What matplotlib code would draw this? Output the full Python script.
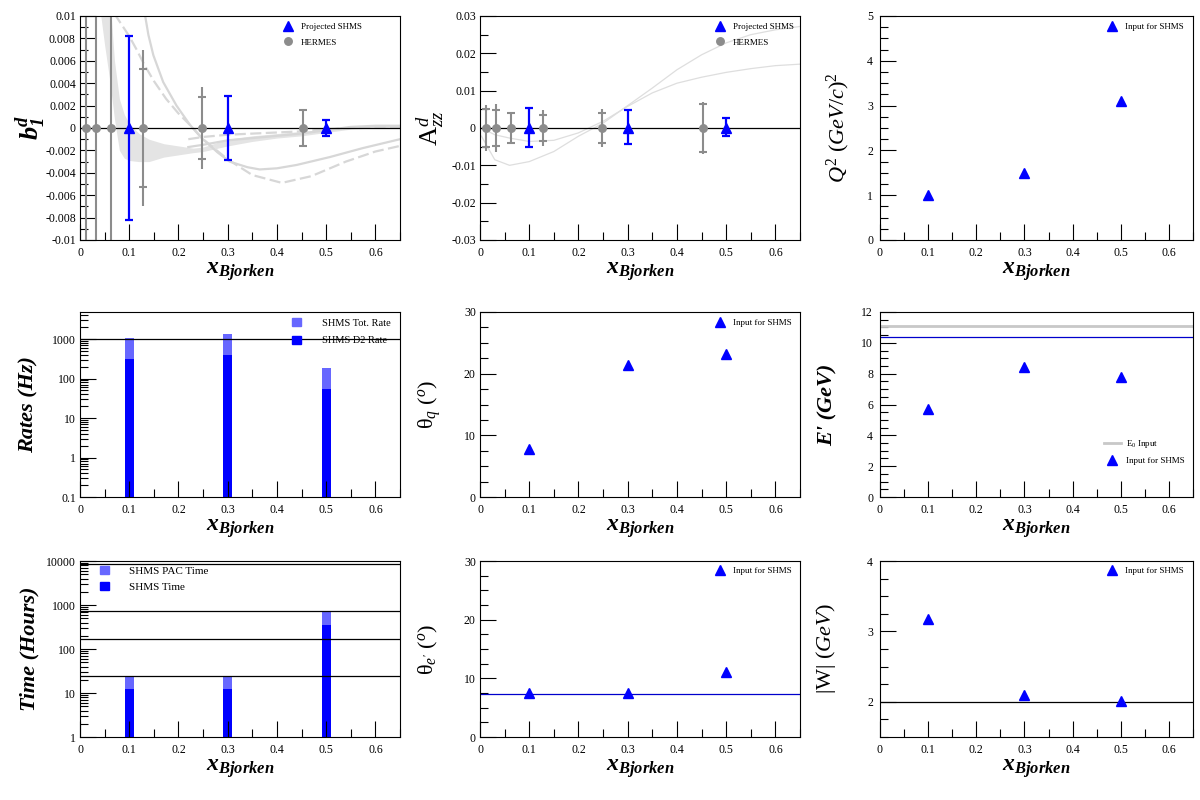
import matplotlib
matplotlib.use("Agg")
import matplotlib.pyplot as plt
from matplotlib.ticker import MultipleLocator, FuncFormatter, LogLocator, NullFormatter
from matplotlib.lines import Line2D
from matplotlib.patches import Patch

plt.rcParams['font.family'] = ['Liberation Serif', 'DejaVu Serif']
plt.rcParams['mathtext.fontset'] = 'custom'
plt.rcParams['mathtext.rm'] = 'Liberation Serif'
plt.rcParams['mathtext.it'] = 'Liberation Serif:italic'
plt.rcParams['mathtext.bf'] = 'Liberation Serif:bold'
plt.rcParams['mathtext.bfit'] = 'Liberation Serif:italic:bold'

# ---- data ----
x_shms = [0.1, 0.3, 0.5]
x_hermes = [0.012, 0.032, 0.063, 0.128, 0.248, 0.452]

# b1^d
b1_shms = [0.0, 0.0, 0.0]
b1_shms_err = [0.0082, 0.0029, 0.0007]
b1_hermes = [0.0, 0.0, 0.0, 0.0, 0.0, 0.0]
b1_hermes_tot = [0.03, 0.03, 0.03, 0.0070, 0.0037, 0.0016]
b1_hermes_stat = [0.03, 0.03, 0.03, 0.0053, 0.0028, 0.0016]

# theory curves for b1 (grey)
band_x = [0.042, 0.05, 0.06, 0.07, 0.08, 0.09, 0.10, 0.12, 0.14, 0.17, 0.20, 0.23,
          0.25, 0.30, 0.35, 0.40, 0.45, 0.50, 0.55, 0.60, 0.65]
band_lo = [0.0101, 0.0074, 0.0044, 0.0008, -0.0020, -0.0027, -0.0029, -0.0030, -0.0030,
           -0.0026, -0.0024, -0.0022, -0.0021, -0.0016, -0.0012, -0.0009, -0.0007,
           -0.0004, -0.0001, 0.0000, 0.0001]
band_hi = [0.0150, 0.0140, 0.0120, 0.0060, 0.0026, 0.0012, 0.0004, -0.0005, -0.0010,
           -0.0014, -0.0016, -0.0018, -0.0017, -0.0010, -0.0007, -0.0005, -0.0003,
           -0.0001, 0.0001, 0.0002, 0.0002]
solid_x = [0.128, 0.132, 0.139, 0.149, 0.169, 0.196, 0.223, 0.247, 0.28, 0.304, 0.34,
           0.365, 0.40, 0.44, 0.507, 0.574, 0.65]
solid_y = [0.0125, 0.0101, 0.0083, 0.0065, 0.0041, 0.0020, 0.0003, -0.0009, -0.0022,
           -0.0030, -0.0035, -0.0037, -0.0036, -0.0033, -0.0026, -0.0018, -0.0010]
dash_x = [0.07, 0.085, 0.10, 0.115, 0.13, 0.15, 0.175, 0.20, 0.225, 0.25, 0.30, 0.35,
          0.41, 0.47, 0.54, 0.60, 0.65]
dash_y = [0.0102, 0.0092, 0.0082, 0.0070, 0.0057, 0.0042, 0.0026, 0.0013, 0.0002,
          -0.0010, -0.0028, -0.0042, -0.0049, -0.0043, -0.0030, -0.0021, -0.0016]
near_x = [0.22, 0.25, 0.30, 0.35, 0.40, 0.45, 0.50, 0.55, 0.60, 0.65]
near_solid_y = [-0.0017, -0.0015, -0.0011, -0.0009, -0.0007, -0.0005, -0.0002, 0.0001,
                0.0002, 0.0002]
near_dash_y = [-0.0010, -0.0008, -0.0006, -0.0005, -0.0004, -0.0003, -0.0001, 0.0000,
               0.0001, 0.0001]

# Azz^d
azz_shms = [0.0, 0.0, 0.0]
azz_shms_up = [0.0053, 0.0048, 0.0026]
azz_shms_dn = [0.0050, 0.0044, 0.0022]
azz_hermes = [0.0, 0.0, 0.0, 0.0, 0.0, 0.0]
azz_hermes_tot = [0.0062, 0.0064, 0.0044, 0.0047, 0.0052, 0.0070]
azz_hermes_stat = [0.0050, 0.0049, 0.0039, 0.0036, 0.0040, 0.0065]
azz_curve_x = [0.003, 0.03, 0.06, 0.10, 0.15, 0.20, 0.25, 0.30, 0.35, 0.40, 0.45,
               0.50, 0.55, 0.60, 0.65]
azz_curve_a = [-0.0022, -0.0085, -0.0100, -0.0090, -0.0063, -0.0022, 0.0013, 0.0060,
               0.0107, 0.0156, 0.0196, 0.0228, 0.0250, 0.0263, 0.0272]
azz_curve_b = [0.0000, -0.0018, -0.0027, -0.0036, -0.0033, -0.0013, 0.0018, 0.0058,
               0.0094, 0.0120, 0.0136, 0.0149, 0.0159, 0.0167, 0.0171]

# kinematics
q2 = [1.0, 1.5, 3.1]
theta_q = [7.8, 21.4, 23.2]
e_prime = [5.7, 8.4, 7.8]
e0_beam = 11.1
e_prime_max = 10.4
theta_e = [7.5, 7.5, 11.1]
theta_e_min = 7.35
w_vals = [3.17, 2.10, 2.01]
w_cut = 2.0

# rates (Hz) and times (hours)
rate_tot = [1080, 1366, 187]
rate_d2 = [316, 400, 55]
rate_line = 1000
time_pac = [24, 24, 690]
time_shms = [12, 12, 350]
time_lines = [24, 168, 744, 8760]

grey = '#8c8c8c'
blue = '#0000ff'
light_blue = '#6767ff'
curve_grey = '#d7d7d7'

W, H = 1200, 800
fig = plt.figure(figsize=(12, 8), dpi=100)

cols = [(80, 400), (480, 800), (880, 1193)]
rows = [(16, 240), (312, 497), (561, 737)]


def make_ax(r, c):
    l, rr = cols[c]
    t, b = rows[r]
    return fig.add_axes([l / W, 1 - b / H, (rr - l) / W, (b - t) / H])


fmt = FuncFormatter(lambda v, p: f'{round(v, 6):g}')


def style(ax, r, ymaj=None, ymin=None, log=False, ypad=3):
    ax.set_xlim(0, 0.65)
    ax.xaxis.set_major_locator(MultipleLocator(0.1))
    ax.xaxis.set_minor_locator(MultipleLocator(0.05))
    ax.xaxis.set_major_formatter(fmt)
    if log:
        ax.set_yscale('log')
        ax.yaxis.set_major_locator(LogLocator(base=10))
        ax.yaxis.set_minor_locator(LogLocator(base=10, subs=range(2, 10)))
        ax.yaxis.set_minor_formatter(NullFormatter())
    else:
        ax.yaxis.set_major_locator(MultipleLocator(ymaj))
        ax.yaxis.set_minor_locator(MultipleLocator(ymin))
    ax.yaxis.set_major_formatter(fmt)
    ax.tick_params(which='both', direction='in', top=False, right=False,
                   labelsize=8.5, width=0.8)
    ax.tick_params(which='major', length=11.5)
    ax.tick_params(which='minor', length=5.8)
    ax.tick_params(axis='x', pad=5)
    ax.tick_params(axis='y', pad=ypad)
    for s in ax.spines.values():
        s.set_linewidth(0.8)
    ax.set_xlabel(r'$\mathbfit{x}_{\mathbfit{Bjorken}}$', fontsize=17)
    t, b = rows[r]
    ax.xaxis.set_label_coords(0.5, -20 / (b - t))


def ylab(ax, text, right_px, c, size=16, **kw):
    ax.set_ylabel(text, fontsize=size, **kw)
    l, rr = cols[c]
    ax.yaxis.set_label_coords((right_px - l) / (rr - l), 0.5)


def legend(ax, handles, labels, hx, tx, y0, dy, fs, hl_px):
    fs_px = fs * 100 / 72
    row_h = fs_px * 1.15
    left = hx - hl_px / 2
    ax.legend(handles, labels, loc='upper left',
              bbox_to_anchor=(left / W, 1 - (y0 - row_h / 2) / H),
              bbox_transform=fig.transFigure, frameon=False, fontsize=fs,
              borderpad=0, borderaxespad=0, handlelength=hl_px / fs_px,
              handletextpad=(tx - hx - hl_px / 2) / fs_px,
              labelspacing=(dy - row_h) / fs_px, handleheight=0.8)


axes = [[make_ax(r, c) for c in range(3)] for r in range(3)]

tri = dict(marker='^', color=blue, ls='none', ms=6.8)
circ = dict(marker='o', color=grey, ls='none', ms=5.4)


def hermes(ax, y, tot, stat):
    ax.errorbar(x_hermes, y, yerr=tot, fmt='none', ecolor=grey, elinewidth=1.5, capsize=0)
    ax.errorbar(x_hermes, y, yerr=stat, fmt='none', ecolor=grey, elinewidth=0,
                capsize=2.6, capthick=1.5)
    ax.plot(x_hermes, y, **circ)


# ---- b1^d ----
ax = axes[0][0]
style(ax, 0, 0.002, 0.001)
ax.set_ylim(-0.01, 0.01)
ax.fill_between(band_x, band_lo, band_hi, color='#e4e4e4', lw=0)
ax.plot(solid_x, solid_y, color=curve_grey, lw=1.6)
ax.plot(dash_x, dash_y, color=curve_grey, lw=1.6, ls=(0, (5, 2)))
ax.plot(near_x, near_solid_y, color=curve_grey, lw=1.6)
ax.plot(near_x, near_dash_y, color=curve_grey, lw=1.6, ls=(0, (5, 2)))
ax.axhline(0, color='black', lw=0.9)
hermes(ax, b1_hermes, b1_hermes_tot, b1_hermes_stat)
ax.errorbar(x_shms, b1_shms, yerr=b1_shms_err, fmt='none', ecolor=blue, elinewidth=1.6,
            capsize=2.6, capthick=1.6)
ax.plot(x_shms, b1_shms, **tri)
ylab(ax, r'$\mathbfit{b}_{\mathbfit{1}}^{\mathbfit{d}}$', 47, 0, size=19)
legend(ax, [Line2D([], [], **tri), Line2D([], [], **circ)], ['Projected SHMS', 'HERMES'],
       288, 301, 28, 17, 6.5, 14)

# ---- Azz^d ----
ax = axes[0][1]
style(ax, 0, 0.01, 0.005)
ax.set_ylim(-0.03, 0.03)
ax.plot(azz_curve_x, azz_curve_a, color='#dedede', lw=0.9)
ax.plot(azz_curve_x, azz_curve_b, color='#dedede', lw=0.9)
ax.axhline(0, color='black', lw=0.9)
hermes(ax, azz_hermes, azz_hermes_tot, azz_hermes_stat)
ax.errorbar(x_shms, azz_shms, yerr=[azz_shms_dn, azz_shms_up], fmt='none', ecolor=blue,
            elinewidth=1.6, capsize=2.6, capthick=1.6)
ax.plot(x_shms, azz_shms, **tri)
ylab(ax, r'$\mathrm{A}_{zz}^{d}$', 447, 1, size=19)
legend(ax, [Line2D([], [], **tri), Line2D([], [], **circ)], ['Projected SHMS', 'HERMES'],
       720, 733, 28, 17, 6.5, 14)

# ---- Q^2 ----
ax = axes[0][2]
style(ax, 0, 1, 0.25, ypad=5)
ax.set_ylim(0, 5)
ax.plot(x_shms, q2, **tri)
ylab(ax, r'$Q^{2}\ (GeV/c)^{2}$', 852, 2, size=16)
legend(ax, [Line2D([], [], **tri)], ['Input for SHMS'], 1112, 1125, 28, 17, 6.5, 14)

# ---- rates ----
ax = axes[1][0]
style(ax, 1, log=True)
ax.set_ylim(0.1, 4850)
ax.bar(x_shms, rate_tot, width=0.018, bottom=0.01, color=light_blue, lw=0)
ax.bar(x_shms, rate_d2, width=0.018, bottom=0.01, color=blue, lw=0)
ax.axhline(rate_line, color='black', lw=0.9, zorder=5)
ylab(ax, 'Rates (Hz)', 39, 0, size=16, fontstyle='italic', fontweight='bold')
legend(ax, [Patch(color=light_blue), Patch(color=blue)], ['SHMS Tot. Rate', 'SHMS D2 Rate'],
       296.5, 322, 324, 20, 7.5, 9)

# ---- theta_q ----
ax = axes[1][1]
style(ax, 1, 10, 2.5)
ax.set_ylim(0, 30)
ax.plot(x_shms, theta_q, **tri)
ylab(ax, r'$\mathrm{\theta}_{q}\ (^{o})$', 443, 1, size=16)
legend(ax, [Line2D([], [], **tri)], ['Input for SHMS'], 720, 733, 324, 17, 6.5, 14)

# ---- E' ----
ax = axes[1][2]
style(ax, 1, 2, 0.5, ypad=5)
ax.set_ylim(0, 12)
ax.axhline(e0_beam, color='#c8c8c8', lw=2.0)
ax.axhline(e_prime_max, color='#0000cc', lw=0.9)
ax.plot(x_shms, e_prime, **tri)
ylab(ax, "E' (GeV)", 838, 2, size=16, fontstyle='italic', fontweight='bold')
legend(ax, [Line2D([], [], color='#c8c8c8', lw=2.0), Line2D([], [], **tri)],
       [r'$\mathrm{E_0}$ Input', 'Input for SHMS'], 1112, 1126, 443, 17, 6.5, 17)

# ---- time ----
ax = axes[2][0]
style(ax, 2, log=True)
ax.set_ylim(1, 10000)
ax.bar(x_shms, time_pac, width=0.018, bottom=0.1, color=light_blue, lw=0)
ax.bar(x_shms, time_shms, width=0.018, bottom=0.1, color=blue, lw=0)
for v in time_lines:
    ax.axhline(v, color='black', lw=0.9, zorder=5)
ylab(ax, 'Time (Hours)', 39, 0, size=16, fontstyle='italic', fontweight='bold')
legend(ax, [Patch(color=light_blue), Patch(color=blue)], ['SHMS PAC Time', 'SHMS Time'],
       104.5, 129, 572, 19, 8, 9)

# ---- theta_e' ----
ax = axes[2][1]
style(ax, 2, 10, 2.5)
ax.set_ylim(0, 30)
ax.axhline(theta_e_min, color='#0000cc', lw=0.9)
ax.plot(x_shms, theta_e, **tri)
ylab(ax, r"$\mathrm{\theta}_{e'}\ (^{o})$", 440, 1, size=16)
legend(ax, [Line2D([], [], **tri)], ['Input for SHMS'], 720, 733, 572, 17, 6.5, 14)

# ---- |W| ----
ax = axes[2][2]
style(ax, 2, 1, 0.25, ypad=5)
ax.set_ylim(1.5, 4)
ax.axhline(w_cut, color='black', lw=0.9)
ax.plot(x_shms, w_vals, **tri)
ylab(ax, r'$\mathrm{|W|}\ (GeV)$', 838, 2, size=16)
legend(ax, [Line2D([], [], **tri)], ['Input for SHMS'], 1112, 1125, 572, 17, 6.5, 14)

fig.savefig('out.png', dpi=100)
